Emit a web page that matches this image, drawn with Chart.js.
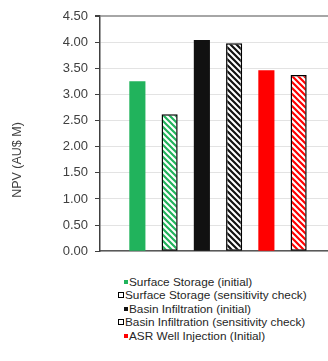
<!DOCTYPE html>
<html lang="en">
<head>
    <meta charset="UTF-8">
    <title>NPV comparison</title>
    <script src="https://cdn.jsdelivr.net/npm/chart.js"></script>
    <style>
        body {
            margin: 0;
            padding: 0;
            background: #ffffff;
            overflow: hidden;
            font-family: "Liberation Sans", Arial, sans-serif;
        }
        .chart-box {
            position: absolute;
            left: 0;
            top: 0;
            width: 336px;
            height: 266px;
        }
        #legend {
            position: absolute;
            left: 118px;
            top: 275px;
            font-size: 11.8px;
            color: #262626;
        }
        .row {
            display: flex;
            align-items: center;
            height: 13.5px;
            white-space: nowrap;
        }
        .key {
            box-sizing: border-box;
            margin-right: 1px;
        }
    </style>
</head>
<body>
    <div class="chart-box"><canvas id="npvChart"></canvas></div>
    <div id="legend"></div>
    <script>
        const seriesNames = [
            'Surface Storage (initial)',
            'Surface Storage (sensitivity check)',
            'Basin Infiltration (initial)',
            'Basin Infiltration (sensitivity check)',
            'ASR Well Injection (Initial)',
            'ASR Well Injection (sensitivity check)'
        ];
        const npvValues = [3.25, 2.62, 4.04, 3.98, 3.46, 3.37];
        const seriesColors = ['#21b35c', '#21b35c', '#111111', '#111111', '#ff0000', '#ff0000'];
        const hatched = [false, true, false, true, false, true];
        const legendShown = 5; // only five entries are visible in the legend
        const yMin = 0, yMax = 4.5, yStep = 0.5;
        const yTitle = 'NPV (AU$ M)';

        // diagonal stripes on white, like the excel pattern fill
        function makeHatch(color) {
            const c = document.createElement('canvas');
            c.width = 6;
            c.height = 6;
            const g = c.getContext('2d');
            g.fillStyle = '#ffffff';
            g.fillRect(0, 0, 6, 6);
            g.strokeStyle = color;
            g.lineWidth = 2.2;
            g.beginPath();
            for (let k = -1; k <= 1; k++) {
                g.moveTo(-1, -1 + 6 * k);
                g.lineTo(7, 7 + 6 * k);
            }
            g.stroke();
            return g.createPattern(c, 'repeat');
        }

        const datasets = seriesNames.map((name, i) => ({
            label: name,
            data: [npvValues[i]],
            backgroundColor: hatched[i] ? makeHatch(seriesColors[i]) : seriesColors[i],
            borderColor: '#000000',
            borderWidth: hatched[i] ? 1.5 : 0,
            borderSkipped: false,
            categoryPercentage: 0.82,
            barPercentage: 0.5
        }));

        const yTitlePlugin = {
            id: 'yTitle',
            afterDraw(chart) {
                const ctx = chart.ctx;
                ctx.save();
                ctx.translate(18, 160);
                ctx.rotate(-Math.PI / 2);
                ctx.font = '12.5px "Liberation Sans", Arial, sans-serif';
                ctx.fillStyle = '#404040';
                ctx.textAlign = 'center';
                ctx.textBaseline = 'middle';
                ctx.fillText(yTitle, 0, 0);
                ctx.restore();
            }
        };

        const chart = new Chart(document.getElementById('npvChart'), {
            type: 'bar',
            data: { labels: [''], datasets: datasets },
            plugins: [yTitlePlugin],
            options: {
                responsive: true,
                maintainAspectRatio: false,
                animation: false,
                layout: { padding: { top: 16, left: 0, right: 0, bottom: 0 } },
                plugins: {
                    legend: { display: false },
                    tooltip: { enabled: false }
                },
                scales: {
                    x: {
                        ticks: { display: false },
                        grid: { display: false },
                        border: { display: true, color: '#595959', width: 1.5 },
                        afterFit(scale) { scale.height = 12; }
                    },
                    y: {
                        min: yMin,
                        max: yMax,
                        ticks: {
                            stepSize: yStep,
                            padding: 7,
                            color: '#404040',
                            font: { family: '"Liberation Sans", Arial, sans-serif', size: 13 },
                            callback: v => v.toFixed(2)
                        },
                        grid: {
                            tickLength: 5,
                            color: ctx => ctx.tick && ctx.tick.value === yMax ? '#a6a6a6' : '#e3e3e3',
                            lineWidth: ctx => ctx.tick && ctx.tick.value === yMax ? 2 : 1,
                            tickColor: '#404040'
                        },
                        border: { color: '#404040', width: 1.5 },
                        afterFit(scale) { scale.width = 100; }
                    }
                }
            }
        });

        // legend, one entry per line
        const legend = document.getElementById('legend');
        seriesNames.slice(0, legendShown).forEach((name, i) => {
            const row = document.createElement('div');
            row.className = 'row';
            const key = document.createElement('span');
            key.className = 'key';
            if (hatched[i]) {
                key.style.width = '6px';
                key.style.height = '6px';
                key.style.border = '1.5px solid #000';
                key.style.background = '#fff';
            } else {
                key.style.width = '4px';
                key.style.height = '4.5px';
                key.style.marginLeft = '6px';
                key.style.background = seriesColors[i];
            }
            const txt = document.createElement('span');
            txt.textContent = name;
            row.appendChild(key);
            row.appendChild(txt);
            legend.appendChild(row);
        });
    </script>
</body>
</html>
